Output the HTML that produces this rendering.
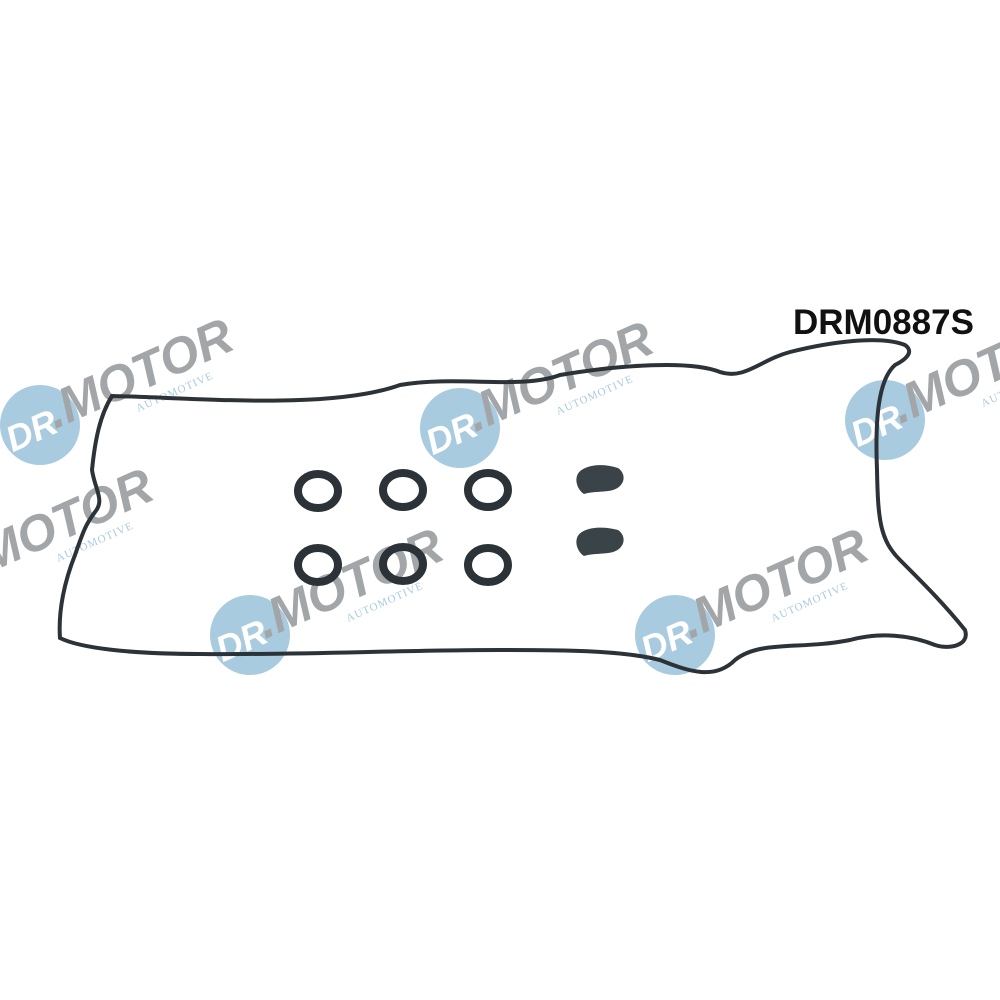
<!DOCTYPE html>
<html><head><style>
html,body{margin:0;padding:0;background:#fff;width:1000px;height:1000px;overflow:hidden}
</style></head><body>
<svg width="1000" height="1000" viewBox="0 0 1000 1000" xmlns="http://www.w3.org/2000/svg">
<defs>
<g id="logo">
<circle cx="0" cy="0" r="40" fill="#a9cbdf"/>
<g transform="rotate(-24)">
<text x="-36" y="14" font-family="Liberation Sans, sans-serif" font-weight="bold" font-style="italic" font-size="36" fill="#fff">DR</text>
<text x="12" y="10" font-family="Liberation Sans, sans-serif" font-weight="bold" font-style="italic" font-size="50" fill="#a3a6a8">.MOTOR</text>
<text x="95" y="28" font-family="Liberation Serif, serif" font-size="11" fill="#a9cbdf" letter-spacing="1">AUTOMOTIVE</text>
</g>
</g>
</defs>
<use href="#logo" x="40" y="425"/>
<use href="#logo" x="460" y="428"/>
<use href="#logo" x="885" y="420"/>
<use href="#logo" x="250" y="635"/>
<use href="#logo" x="675" y="635"/>
<use href="#logo" x="-40" y="575"/>
<text x="793" y="334" font-family="Liberation Sans, sans-serif" font-weight="bold" font-size="35" fill="#111">DRM0887S</text>
<path d="M112 396 C200 398 330 410 400 385 C460 375 520 390 560 375 C620 365 690 360 720 372 C745 380 760 360 790 352 C830 342 880 335 905 345 C915 352 905 360 895 365 C878 380 875 420 877 470 C878 520 880 540 900 560 C925 585 945 605 965 630 C970 645 950 650 935 645 C910 635 880 632 850 640 C800 650 760 640 735 660 C715 680 690 672 660 660 C620 650 560 650 500 650 C400 650 300 655 200 654 C130 654 80 648 60 638 C58 610 65 580 75 555 C82 535 85 525 95 512 C105 500 95 490 92 470 C95 440 100 415 112 396 Z" fill="none" stroke="#2b3338" stroke-width="4"/>
<g fill="none" stroke="#2b3338" stroke-width="8">
<ellipse cx="318" cy="491" rx="20" ry="17"/>
<ellipse cx="403" cy="490" rx="20" ry="17"/>
<ellipse cx="488" cy="490" rx="20" ry="17"/>
<ellipse cx="318" cy="565" rx="20" ry="17"/>
<ellipse cx="403" cy="564" rx="20" ry="17"/>
<ellipse cx="488" cy="565" rx="20" ry="17"/>
</g>
<path d="M577 476 C580 466 600 462 618 468 C624 472 626 480 620 486 C612 494 596 490 584 494 C578 490 575 482 577 476 Z" fill="#3a4348"/>
<path d="M577 538 C580 528 600 525 618 530 C624 534 626 542 620 548 C612 556 596 552 584 556 C578 552 575 544 577 538 Z" fill="#3a4348"/>
</svg>
</body></html>
